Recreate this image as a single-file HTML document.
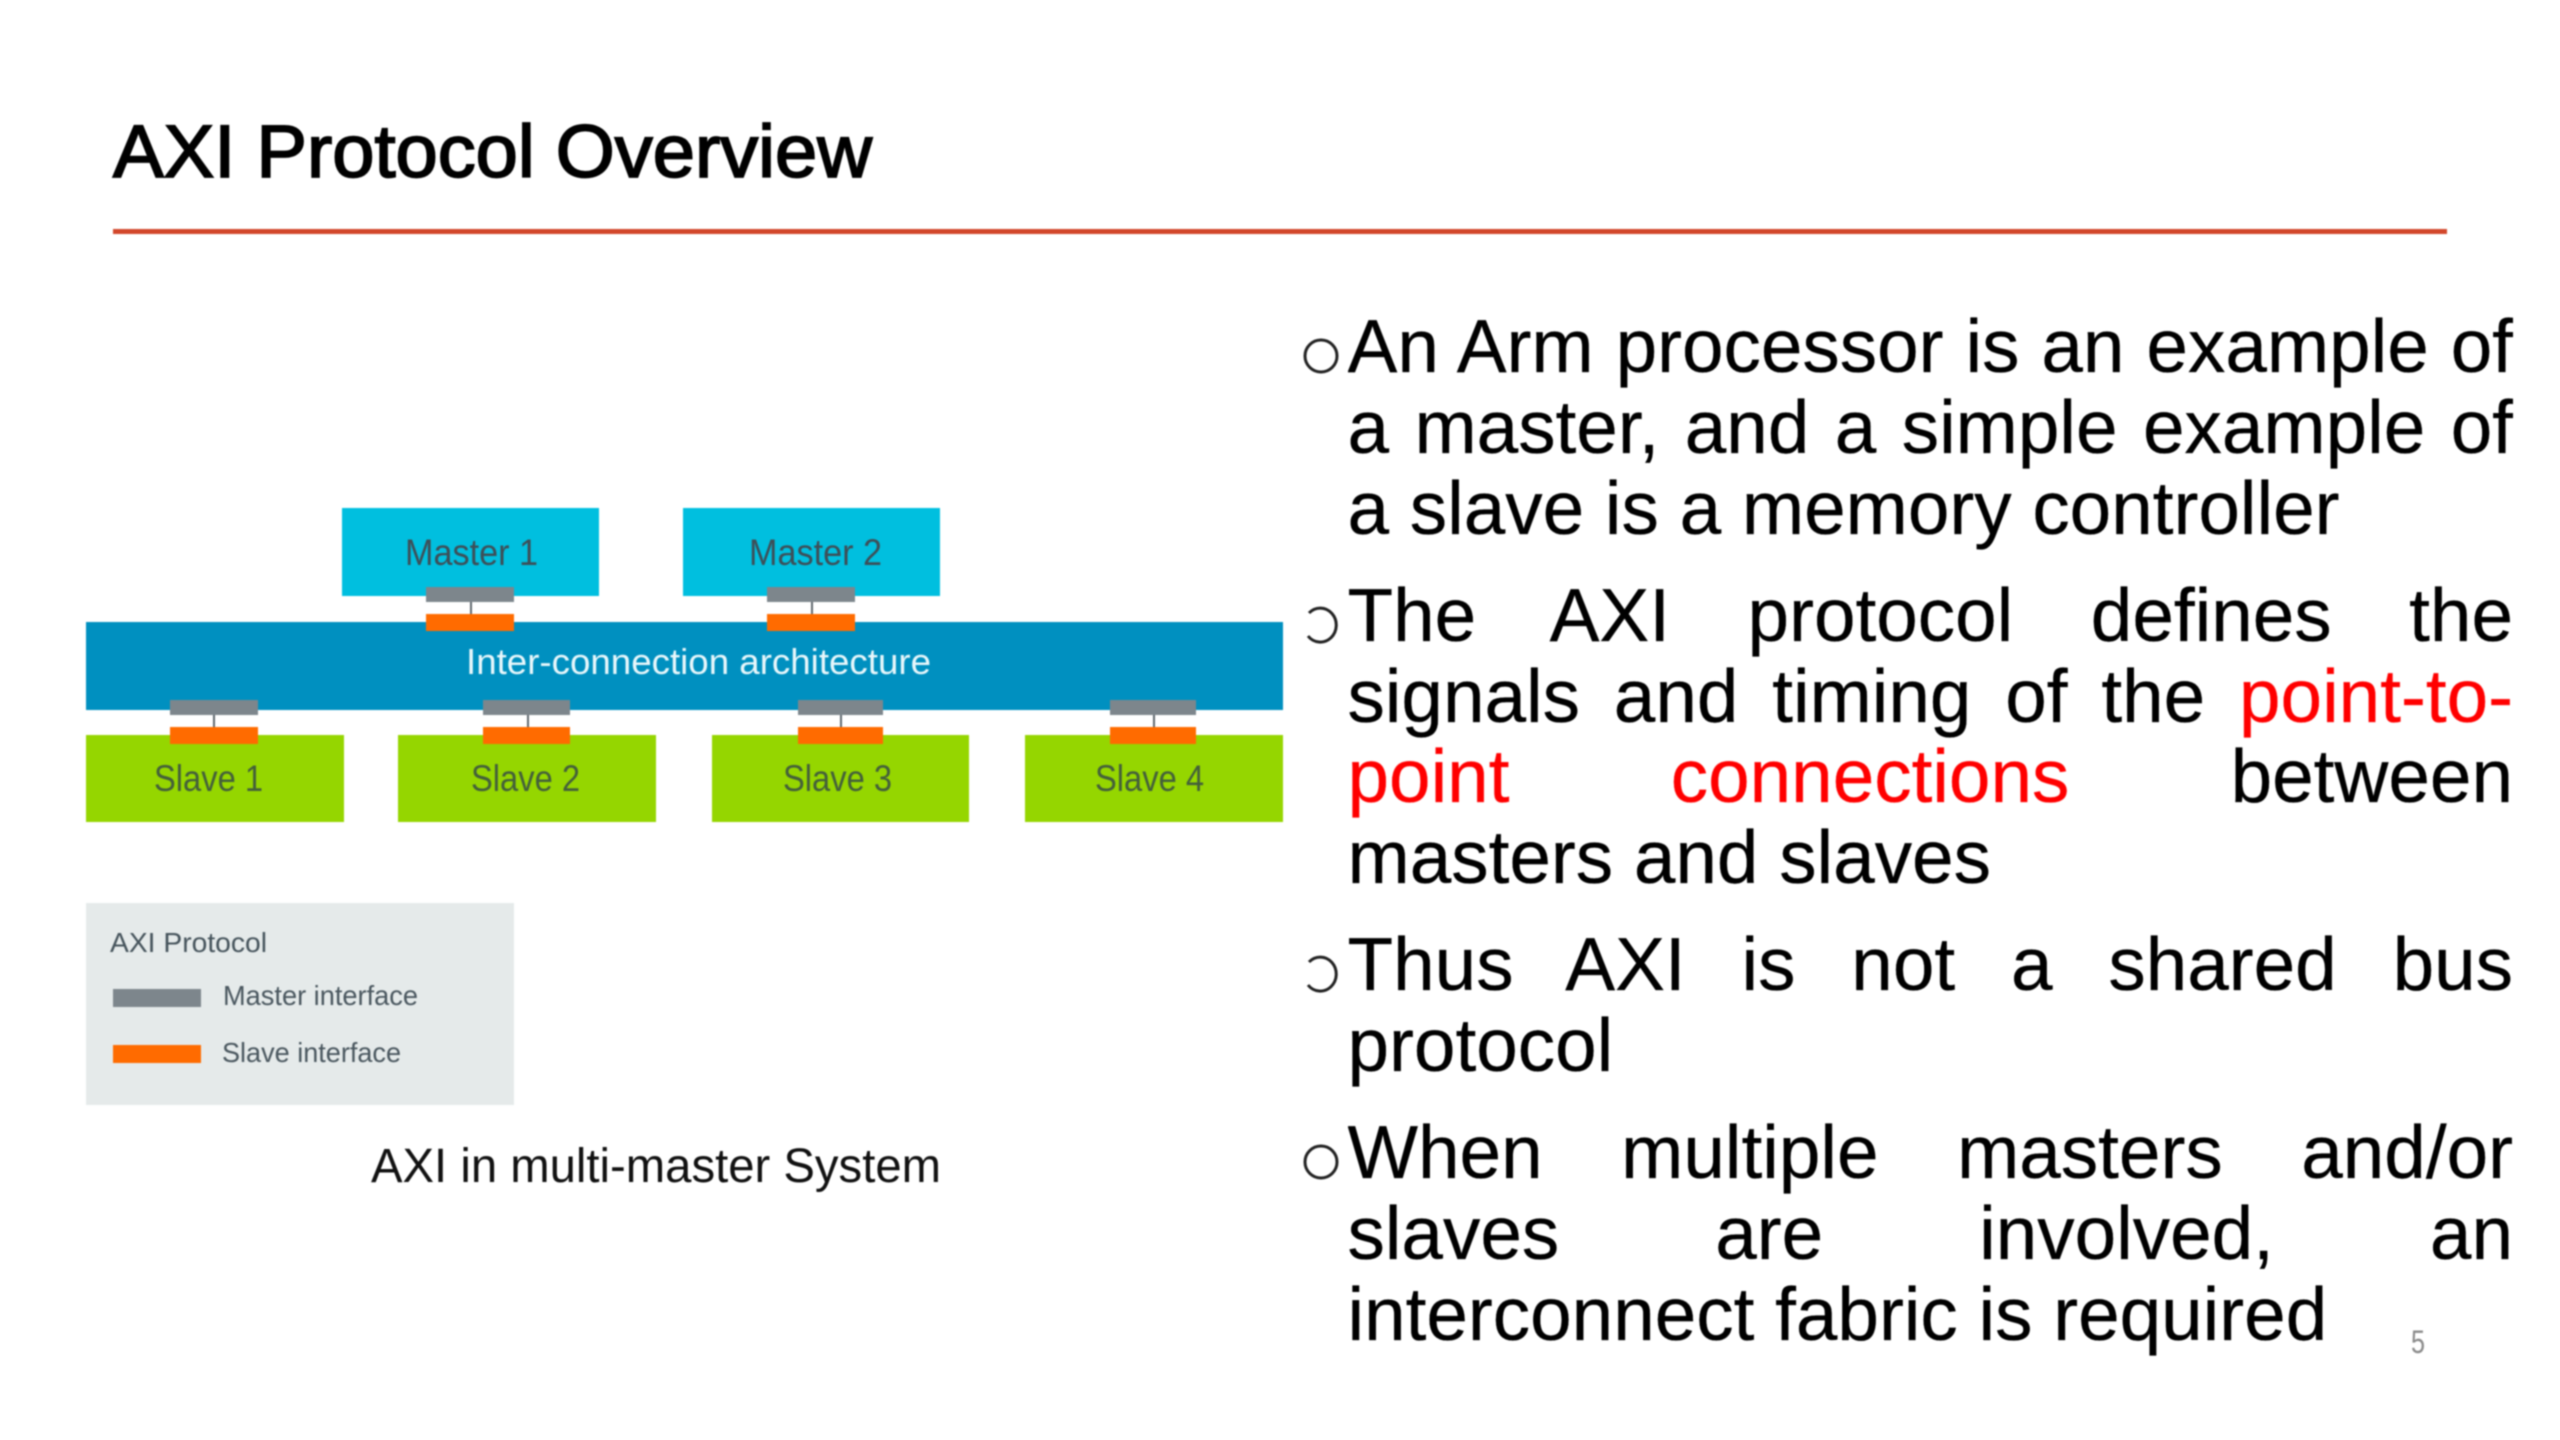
<!DOCTYPE html>
<html lang="en">
<head>
<meta charset="utf-8">
<title>AXI Protocol Overview</title>
<style>
html,body{margin:0;padding:0;background:#fff;}
#page{position:relative;width:2560px;height:1440px;overflow:hidden;background:#fff;filter:blur(.7px);}
svg{position:absolute;left:0;top:0;}
.l{position:absolute;left:1347.5px;width:1165.5px;height:84px;line-height:84px;font-family:"Liberation Sans",Arial,sans-serif;font-size:74.7px;color:#000;overflow:hidden;text-align:left;-webkit-text-stroke:.3px currentColor;}
.j{text-align:justify;text-align-last:justify;}
.r{color:#f00;}
</style>
</head>
<body>
<div id="page">
<svg width="2560" height="1440" viewBox="0 0 2560 1440" xmlns="http://www.w3.org/2000/svg" font-family="Liberation Sans, Arial, sans-serif">
  <text x="113" y="177" font-size="74" fill="#000" stroke="#000" stroke-width="1.8" textLength="759" lengthAdjust="spacingAndGlyphs">AXI Protocol Overview</text>
  <rect x="113" y="229" width="2334" height="5" fill="#d2472a"/>

  <rect x="342" y="508" width="257" height="88" fill="#00bfdf"/>
  <rect x="683" y="508" width="257" height="88" fill="#00bfdf"/>
  <rect x="86" y="622" width="1197" height="88" fill="#0090c0"/>
  <rect x="86" y="735" width="258" height="87" fill="#95d600"/>
  <rect x="398" y="735" width="258" height="87" fill="#95d600"/>
  <rect x="712" y="735" width="257" height="87" fill="#95d600"/>
  <rect x="1025" y="735" width="258" height="87" fill="#95d600"/>

  <g stroke="#5f686e" stroke-width="2">
    <line x1="471" y1="600" x2="471" y2="616"/>
    <line x1="812" y1="600" x2="812" y2="616"/>
    <line x1="214" y1="714" x2="214" y2="728"/>
    <line x1="528" y1="714" x2="528" y2="728"/>
    <line x1="841" y1="714" x2="841" y2="728"/>
    <line x1="1154" y1="714" x2="1154" y2="728"/>
  </g>
  <g fill="#7d868c">
    <rect x="426" y="587" width="88" height="15"/>
    <rect x="767" y="587" width="88" height="15"/>
    <rect x="170" y="700" width="88" height="15"/>
    <rect x="483" y="700" width="87" height="15"/>
    <rect x="798" y="700" width="85" height="15"/>
    <rect x="1110" y="700" width="86" height="15"/>
  </g>
  <g fill="#ff6b00">
    <rect x="426" y="614" width="88" height="17"/>
    <rect x="767" y="614" width="88" height="17"/>
    <rect x="170" y="727" width="88" height="17"/>
    <rect x="483" y="727" width="87" height="17"/>
    <rect x="798" y="727" width="85" height="17"/>
    <rect x="1110" y="727" width="86" height="17"/>
  </g>

  <g font-size="37" fill="#3d4f58">
    <text x="405" y="565" textLength="133" lengthAdjust="spacingAndGlyphs">Master 1</text>
    <text x="749" y="565" textLength="133" lengthAdjust="spacingAndGlyphs">Master 2</text>
  </g>
  <text x="466" y="674" font-size="36" fill="#e8f7fb" textLength="465" lengthAdjust="spacingAndGlyphs">Inter-connection architecture</text>
  <g font-size="37" fill="#44603a">
    <text x="154" y="791" textLength="109" lengthAdjust="spacingAndGlyphs">Slave 1</text>
    <text x="471" y="791" textLength="109" lengthAdjust="spacingAndGlyphs">Slave 2</text>
    <text x="783" y="791" textLength="109" lengthAdjust="spacingAndGlyphs">Slave 3</text>
    <text x="1095" y="791" textLength="109" lengthAdjust="spacingAndGlyphs">Slave 4</text>
  </g>

  <rect x="86" y="903" width="428" height="202" fill="#e5eaea"/>
  <text x="110" y="952" font-size="28" fill="#46545c" textLength="157" lengthAdjust="spacingAndGlyphs">AXI Protocol</text>
  <rect x="113" y="989" width="88" height="18" fill="#7d868c"/>
  <text x="223" y="1005" font-size="28" fill="#4a575f" textLength="195" lengthAdjust="spacingAndGlyphs">Master interface</text>
  <rect x="113" y="1045" width="88" height="18" fill="#ff6b00"/>
  <text x="222" y="1062" font-size="28" fill="#4a575f" textLength="179" lengthAdjust="spacingAndGlyphs">Slave interface</text>

  <text x="371" y="1182" font-size="48" fill="#111" textLength="570" lengthAdjust="spacingAndGlyphs">AXI in multi-master System</text>

  <g fill="none" stroke="#222" stroke-width="3">
    <circle cx="1321" cy="356" r="16"/>
    <path d="M1309 613 A16 17 0 1 1 1308 636"/>
    <path d="M1309 962 A16 17 0 1 1 1308 985"/>
    <circle cx="1321" cy="1162" r="16"/>
  </g>

  <text x="2411" y="1353" font-size="32" fill="#8a8a8a" textLength="14" lengthAdjust="spacingAndGlyphs">5</text>
</svg>

<div class="l j" style="top:304px">An Arm processor is an example of</div>
<div class="l j" style="top:385px">a master, and a simple example of</div>
<div class="l" style="top:466px">a slave is a memory controller</div>

<div class="l j" style="top:573px">The AXI protocol defines the</div>
<div class="l j" style="top:654px">signals and timing of the <span class="r">point-to-</span></div>
<div class="l j" style="top:734px"><span class="r">point</span> <span class="r">connections</span> between</div>
<div class="l" style="top:815px">masters and slaves</div>

<div class="l j" style="top:922px">Thus AXI is not a shared bus</div>
<div class="l" style="top:1003px">protocol</div>

<div class="l j" style="top:1110px">When multiple masters and/or</div>
<div class="l j" style="top:1191px">slaves are involved, an</div>
<div class="l" style="top:1272px">interconnect fabric is required</div>
</div>
</body>
</html>
